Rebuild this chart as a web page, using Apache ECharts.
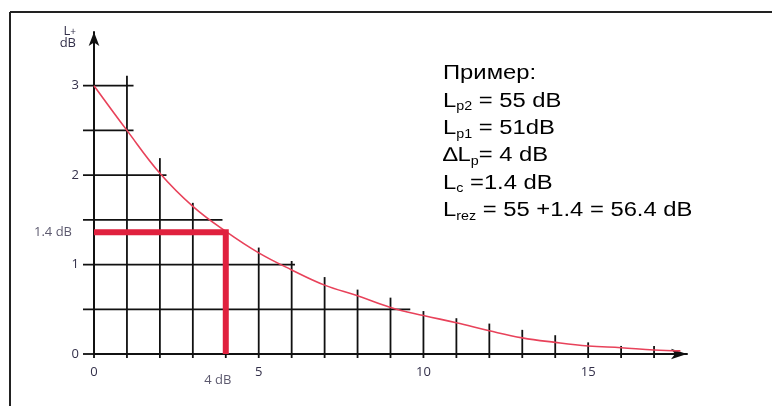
<!DOCTYPE html>
<html><head><meta charset="utf-8">
<script src="https://cdn.jsdelivr.net/npm/echarts@6/dist/echarts.min.js"></script>
<style>html,body{margin:0;padding:0;background:#fff}#c{width:772px;height:406px}</style>
</head><body><div id="c"></div>
<script>
// Curve L+ (dB) versus ΔLp (dB)
const curveX = [0, 1, 2, 3, 4, 5, 6, 7, 8, 9, 10, 11, 12, 13, 14, 15, 16, 17, 17.8];
const curveY = [3.0, 2.5, 2.02, 1.65, 1.37, 1.13, 0.94, 0.77, 0.65, 0.52, 0.43, 0.35, 0.26, 0.18, 0.13, 0.09, 0.07, 0.045, 0.035];
// Vertical grid lines: x position and height they reach
const colX = [0, 1, 2, 3, 4, 5, 6, 7, 8, 9, 10, 11, 12, 13, 14, 15, 16, 17];
const colTop = [0, 3.11, 2.19, 1.69, 1.3, 1.19, 1.04, 0.86, 0.72, 0.63, 0.48, 0.40, 0.34, 0.27, 0.21, 0.13, 0.09, 0.09];
// Horizontal grid lines: y position and x value they reach
const rowY = [0, 0.5, 1, 1.5, 2, 2.5, 3];
const rowEnd = [0, 9.6, 6.1, 3.9, 2.2, 1.2, 1.2];
// Axis labels
const xLabels = [0, 5, 10, 15];
const yLabels = [0, 1, 2, 3];
// Worked example marker
const exX = 4, exY = 1.36;
const exXLabel = '4 dB', exYLabel = '1.4 dB';
// Annotation block: [main, subscript, rest]
const noteLines = [
  ['Пример:', '', ''],
  ['L', 'p2', ' = 55 dB'],
  ['L', 'p1', ' = 51dB'],
  ['∆L', 'p', '= 4 dB'],
  ['L', 'c', ' =1.4 dB'],
  ['L', 'rez', ' = 55 +1.4 = 56.4 dB']
];

const labelColor = '#33304a';
const ink = '#111';

const noteText = noteLines.map(function (l) {
  let s = '{m|' + l[0] + '}';
  if (l[1]) s += '{s|' + l[1] + '}';
  if (l[2]) s += '{m|' + l[2] + '}';
  return s;
}).join('\n');

const chart = echarts.init(document.getElementById('c'), null, {renderer: 'canvas'});
chart.setOption({
  animation: false,
  backgroundColor: '#fff',
  grid: {left: 94, top: 32, width: 593, height: 322},
  xAxis: {
    type: 'value', min: 0, max: 18, interval: 1,
    axisLine: {show: true, lineStyle: {color: ink, width: 2}, symbol: ['none', 'arrow'], symbolSize: [8, 16]},
    axisTick: {show: false},
    splitLine: {show: false},
    axisLabel: {
      margin: 12, color: labelColor, fontFamily: 'Open Sans', fontSize: 13,
      formatter: function (v) { return xLabels.indexOf(v) >= 0 ? String(v) : ''; }
    }
  },
  yAxis: {
    type: 'value', min: 0, max: 3.6, interval: 0.5,
    name: '{a|L}{b|+}\n{a|dB}',
    nameLocation: 'end', nameGap: -5,
    nameTextStyle: {align: 'right', verticalAlign: 'middle', padding: [0, 18, 0, 0],
      rich: {
        a: {fontFamily: 'Open Sans', fontSize: 13, lineHeight: 12, color: labelColor},
        b: {fontFamily: 'Open Sans', fontSize: 10, lineHeight: 8, color: labelColor, verticalAlign: 'bottom'}
      }},
    axisLine: {show: true, lineStyle: {color: ink, width: 2}, symbol: ['none', 'arrow'], symbolSize: [8, 14]},
    axisTick: {show: false},
    splitLine: {show: false},
    axisLabel: {
      margin: 15, color: labelColor, fontFamily: 'Open Sans', fontSize: 13,
      formatter: function (v) { return yLabels.indexOf(v) >= 0 ? String(v) : ''; }
    }
  },
  graphic: [
    {type: 'line', shape: {x1: 10, y1: 12, x2: 772, y2: 12}, style: {stroke: '#222', lineWidth: 2}, silent: true},
    {type: 'line', shape: {x1: 10, y1: 12, x2: 10, y2: 406}, style: {stroke: '#222', lineWidth: 2}, silent: true},
    {type: 'text', x: 443, y: 60, scaleX: 1.19, silent: true,
      style: {text: noteText, x: 0, y: 0, align: 'left', verticalAlign: 'top',
        rich: {
          m: {fontFamily: 'Liberation Sans', fontSize: 20, lineHeight: 27.4, fill: '#000', verticalAlign: 'middle'},
          s: {fontFamily: 'Liberation Sans', fontSize: 12, fill: '#000', verticalAlign: 'bottom', padding: [0, 0, 2, 0]}
        }}}
  ],
  series: [
    {
      type: 'custom', silent: true, clip: false, z: 2,
      data: colX.map(function (x, i) { return [x, colTop[i]]; }),
      renderItem: function (params, api) {
        const p0 = api.coord([api.value(0), 0]);
        const p1 = api.coord([api.value(0), api.value(1)]);
        return {type: 'line', shape: {x1: p0[0], y1: p0[1] + 4, x2: p1[0], y2: p1[1]},
          style: {stroke: ink, lineWidth: 1.8}};
      }
    },
    {
      type: 'custom', silent: true, clip: false, z: 2,
      data: rowY.map(function (y, i) { return [rowEnd[i], y]; }),
      renderItem: function (params, api) {
        const p0 = api.coord([0, api.value(1)]);
        const p1 = api.coord([api.value(0), api.value(1)]);
        return {type: 'line', shape: {x1: p0[0] - 11, y1: p0[1], x2: p1[0], y2: p1[1]},
          style: {stroke: ink, lineWidth: 1.8}};
      }
    },
    {
      type: 'line', silent: true, z: 3,
      data: curveX.map(function (x, i) { return [x, curveY[i]]; }),
      smooth: 0.4, showSymbol: false, symbol: 'none',
      lineStyle: {color: '#e8425a', width: 1.6}
    },
    {
      type: 'line', silent: true, z: 4,
      data: [[0, exY], [exX, exY], [exX, 0]],
      showSymbol: false, symbol: 'none',
      lineStyle: {color: '#e0213e', width: 6, cap: 'butt', join: 'miter'}
    },
    {
      type: 'scatter', silent: true, z: 5, symbolSize: 0,
      data: [
        {value: [0, exY], label: {show: true, position: 'left', distance: 22, formatter: exYLabel}},
        {value: [exX, 0], label: {show: true, position: 'bottom', distance: 20, offset: [-8, 0], formatter: exXLabel}}
      ],
      label: {color: labelColor, fontFamily: 'Open Sans', fontSize: 13}
    }
  ]
});
</script>
</body></html>
